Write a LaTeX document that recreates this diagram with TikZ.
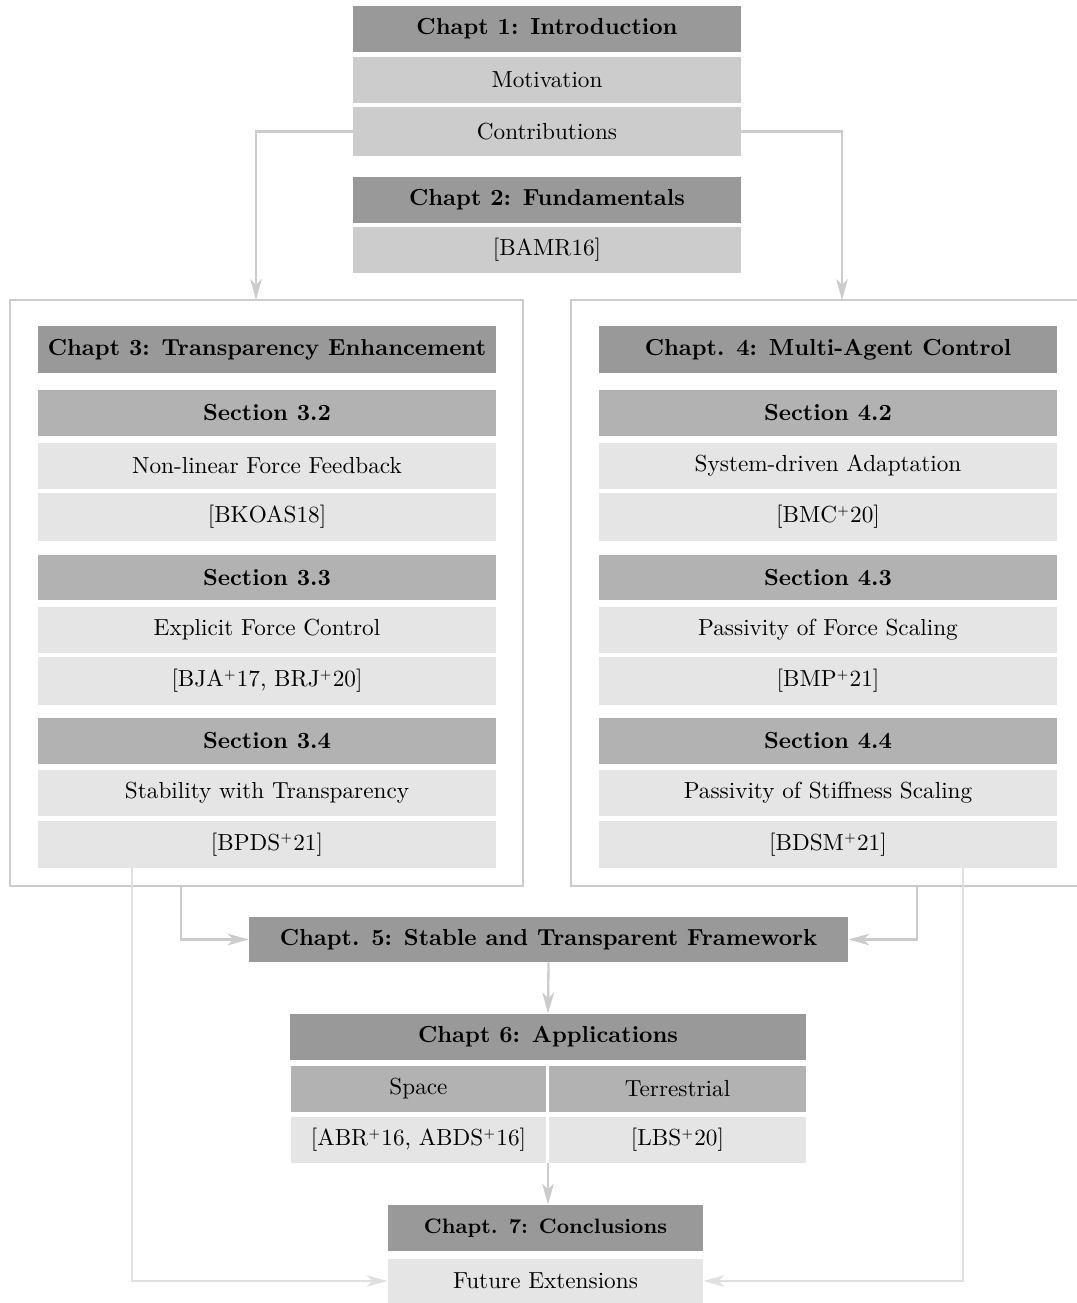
\documentclass[tikz,border=0pt]{standalone}
\usepackage{amsmath, tikz}
\usetikzlibrary{arrows.meta}
\newcommand{\pxu}{0.4307pt}
\newcommand{\plus}{\textsuperscript{\tiny +}}

\begin{document}
\begin{tikzpicture}[x=0.4307pt, y=-0.4307pt]
    \tikzstyle{every node} = [rectangle, inner sep = 0, minimum height = 46*\pxu];
    \tikzstyle{chap} = [fill = black!40, font = \bfseries];
    \tikzstyle{sect} = [fill = black!30, font = \bfseries];
    \tikzstyle{intro} = [fill = black!20];
    \tikzstyle{topic} = [fill = black!10];
    \tikzstyle{frame} = [draw = black!20, line width = 1pt, fill = none];
    \tikzstyle{link} = [draw = black!20, line width = 1pt, -{Stealth[length=9pt, width=5pt, inset=2.5pt]}];
    \tikzstyle{thin} = [draw = black!12, line width = .6pt, -{Stealth[length=9pt, width=5pt, inset=2.5pt]}];
    \useasboundingbox (0,0) rectangle (1076,1303);
    % chapters 1 and 2
    \node[chap, minimum width = 388*\pxu] (c1) at (547,28.5) {Chapt 1: Introduction};
    \node[intro, minimum width = 388*\pxu] (mot) at (547,79.5) {Motivation};
    \node[intro, minimum width = 388*\pxu, minimum height = 49*\pxu] (con) at (547,131.5) {Contributions};
    \node[chap, minimum width = 388*\pxu] (c2) at (547,200) {Chapt 2: Fundamentals};
    \node[intro, minimum width = 388*\pxu] (bamr) at (547,250) {[BAMR16]};
    % frames
    \node[frame, minimum width = 513*\pxu, minimum height = 586*\pxu] (lbox) at (266.5,593) {};
    \node[frame, minimum width = 513*\pxu, minimum height = 586*\pxu] (rbox) at (827.5,593) {};
    % chapter 3
    \node[chap, minimum width = 458*\pxu, minimum height = 47*\pxu] (c3) at (267,349.5) {Chapt 3: Transparency Enhancement};
    \node[sect, minimum width = 458*\pxu] (s32) at (267,413) {Section 3.2};
    \node[topic, minimum width = 458*\pxu] (nlff) at (267,466) {Non-linear Force Feedback};
    \node[topic, minimum width = 458*\pxu, minimum height = 48*\pxu] (bkoas) at (267,517) {[BKOAS18]};
    \node[sect, minimum width = 458*\pxu, minimum height = 45*\pxu] (s33) at (267,577.5) {Section 3.3};
    \node[topic, minimum width = 458*\pxu] (efc) at (267,630) {Explicit Force Control};
    \node[topic, minimum width = 458*\pxu, minimum height = 48*\pxu] (bja) at (267,681) {[BJA\plus17, BRJ\plus20]};
    \node[sect, minimum width = 458*\pxu] (s34) at (267,741) {Section 3.4};
    \node[topic, minimum width = 458*\pxu] (swt) at (267,793) {Stability with Transparency};
    \node[topic, minimum width = 458*\pxu, minimum height = 47*\pxu] (bpds) at (267,844.5) {[BPDS\plus21]};
    % chapter 4
    \node[chap, minimum width = 458*\pxu, minimum height = 47*\pxu] (c4) at (828,349.5) {Chapt. 4: Multi-Agent Control};
    \node[sect, minimum width = 458*\pxu] (s42) at (828,413) {Section 4.2};
    \node[topic, minimum width = 458*\pxu] (sda) at (828,466) {System-driven Adaptation};
    \node[topic, minimum width = 458*\pxu, minimum height = 48*\pxu] (bmc) at (828,517) {[BMC\plus20]};
    \node[sect, minimum width = 458*\pxu, minimum height = 45*\pxu] (s43) at (828,577.5) {Section 4.3};
    \node[topic, minimum width = 458*\pxu] (pfs) at (828,630) {Passivity of Force Scaling};
    \node[topic, minimum width = 458*\pxu, minimum height = 48*\pxu] (bmp) at (828,681) {[BMP\plus21]};
    \node[sect, minimum width = 458*\pxu] (s44) at (828,741) {Section 4.4};
    \node[topic, minimum width = 458*\pxu] (pss) at (828,793) {Passivity of Stiffness Scaling};
    \node[topic, minimum width = 458*\pxu, minimum height = 47*\pxu] (bdsm) at (828,844.5) {[BDSM\plus21]};
    % chapters 5 to 7
    \node[chap, minimum width = 599*\pxu, minimum height = 45*\pxu] (c5) at (548.5,939.5) {Chapt. 5: Stable and Transparent Framework};
    \node[chap, minimum width = 516*\pxu] (c6) at (548,1037) {Chapt 6: Applications};
    \node[sect, font = \mdseries, minimum width = 255*\pxu] (space) at (418.5,1089) {Space};
    \node[sect, font = \mdseries, minimum width = 257*\pxu] (terr) at (677.5,1089) {Terrestrial};
    \node[topic, minimum width = 255*\pxu] (abr) at (418.5,1140) {[ABR\plus16, ABDS\plus16]};
    \node[topic, minimum width = 257*\pxu] (lbs) at (677.5,1140) {[LBS\plus20]};
    \node[chap, font = \small\bfseries, minimum width = 315*\pxu] (c7) at (545.5,1228) {Chapt. 7: Conclusions};
    \node[topic, minimum width = 315*\pxu, minimum height = 44*\pxu] (fut) at (545.5,1281) {Future Extensions};
    % free ends
    \coordinate (lin) at (256,300);
    \coordinate (rin) at (842,300);
    \coordinate (lout) at (181,886);
    \coordinate (rout) at (917,886);
    \coordinate (lfut) at (132,868);
    \coordinate (rfut) at (963,868);
    \coordinate (app) at (548,1163);
    % connectors
    \draw[link] (con.west) -| (lin);
    \draw[link] (con.east) -| (rin);
    \draw[link] (lout) |- (c5.west);
    \draw[link] (rout) |- (c5.east);
    \draw[link] (c5.south) -- (c6.north);
    \draw[link] (app) -- (app |- c7.north);
    \draw[thin] (lfut) |- (fut.west);
    \draw[thin] (rfut) |- (fut.east);
\end{tikzpicture}
\end{document}
